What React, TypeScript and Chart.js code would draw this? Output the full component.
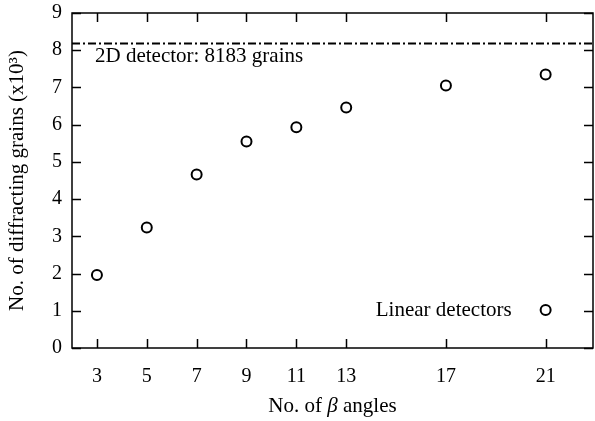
import React, { useEffect, useRef } from "react";
import { Chart, registerables } from "chart.js";

Chart.register(...registerables);

const BETA_ANGLES = [3, 5, 7, 9, 11, 13, 17, 21];
const GRAINS_K = [1.96, 3.24, 4.66, 5.55, 5.93, 6.46, 7.05, 7.35];
const X_TICKS = [3, 5, 7, 9, 11, 13, 17, 21];
const Y_TICKS = [0, 1, 2, 3, 4, 5, 6, 7, 8, 9];
const X_MIN = 2;
const X_MAX = 22.9;
const Y_MIN = 0;
const Y_MAX = 9;
const DETECTOR_2D = 8.183;
const DETECTOR_LABEL = "2D detector: 8183 grains";
const LEGEND_LABEL = "Linear detectors";
const Y_TITLE = "No. of diffracting grains (x10\u00B3)";

const FONT = "'Liberation Serif', 'Times New Roman', serif";

const framePlugin = {
  id: "frame",
  afterDraw(chart: any) {
    const { ctx, chartArea, scales } = chart;
    const { left, right, top, bottom } = chartArea;
    const xs = scales.x;
    const ys = scales.y;
    ctx.save();
    ctx.strokeStyle = "#000";
    ctx.lineWidth = 1.5;
    ctx.strokeRect(left, top, right - left, bottom - top);
    const tl = 9;
    ctx.beginPath();
    X_TICKS.forEach((v) => {
      const px = Math.round(xs.getPixelForValue(v)) + 0.5;
      ctx.moveTo(px, bottom);
      ctx.lineTo(px, bottom - tl);
      ctx.moveTo(px, top);
      ctx.lineTo(px, top + tl);
    });
    Y_TICKS.forEach((v) => {
      const py = Math.round(ys.getPixelForValue(v)) + 0.5;
      ctx.moveTo(left, py);
      ctx.lineTo(left + tl, py);
      ctx.moveTo(right, py);
      ctx.lineTo(right - tl, py);
    });
    ctx.stroke();

    // annotation for 2D detector line
    ctx.fillStyle = "#000";
    ctx.font = `21px ${FONT}`;
    ctx.textAlign = "left";
    ctx.textBaseline = "alphabetic";
    ctx.fillText(DETECTOR_LABEL, left + 23, ys.getPixelForValue(DETECTOR_2D) + 19);

    // legend
    const ly = bottom - 38;
    const lx = xs.getPixelForValue(21);
    ctx.textAlign = "right";
    ctx.textBaseline = "middle";
    ctx.fillText(LEGEND_LABEL, lx - 34, ly);
    ctx.beginPath();
    ctx.lineWidth = 2;
    ctx.arc(lx, ly, 5, 0, Math.PI * 2);
    ctx.stroke();

    // x title with italic beta
    const cx = (left + right) / 2;
    const by = 412;
    ctx.textBaseline = "alphabetic";
    ctx.textAlign = "left";
    const p1 = "No. of ";
    const p2 = "\u03B2";
    const p3 = " angles";
    ctx.font = `21px ${FONT}`;
    const w1 = ctx.measureText(p1).width;
    const w3 = ctx.measureText(p3).width;
    ctx.font = `italic 21px ${FONT}`;
    const w2 = ctx.measureText(p2).width;
    const x0 = cx - (w1 + w2 + w3) / 2;
    ctx.font = `21px ${FONT}`;
    ctx.fillText(p1, x0, by);
    ctx.font = `italic 21px ${FONT}`;
    ctx.fillText(p2, x0 + w1, by);
    ctx.font = `21px ${FONT}`;
    ctx.fillText(p3, x0 + w1 + w2, by);
    ctx.restore();
  },
};

export default function App() {
  const ref = useRef<HTMLCanvasElement | null>(null);
  useEffect(() => {
    if (!ref.current) return;
    const chart = new Chart(ref.current, {
      type: "scatter",
      data: {
        datasets: [
          {
            label: "2D detector",
            data: [
              { x: X_MIN, y: DETECTOR_2D },
              { x: X_MAX, y: DETECTOR_2D },
            ],
            showLine: true,
            borderColor: "#000",
            borderWidth: 2,
            borderDash: [8, 3, 2, 3],
            pointRadius: 0,
          },
          {
            label: LEGEND_LABEL,
            data: BETA_ANGLES.map((x, i) => ({ x, y: GRAINS_K[i] })),
            showLine: false,
            pointStyle: "circle",
            pointRadius: 5,
            pointBorderWidth: 2,
            borderColor: "#000",
            backgroundColor: "rgba(0,0,0,0)",
          },
        ],
      },
      options: {
        responsive: false,
        animation: false,
        events: [],
        layout: { autoPadding: false, padding: { top: 13, right: 2, left: 0, bottom: 0 } },
        plugins: {
          legend: { display: false },
          tooltip: { enabled: false },
        },
        scales: {
          x: {
            type: "linear",
            min: X_MIN,
            max: X_MAX,
            afterBuildTicks: (s: any) => {
              s.ticks = X_TICKS.map((v) => ({ value: v }));
            },
            afterFit: (s: any) => {
              s.height = 73;
              s.paddingLeft = 0;
              s.paddingRight = 0;
              s.paddingTop = 0;
              s.paddingBottom = 0;
            },
            grid: { display: false, drawTicks: false },
            border: { display: false },
            ticks: {
              color: "#000",
              font: { family: FONT, size: 20 },
              padding: 17,
              maxRotation: 0,
              autoSkip: false,
              callback: (v: any) => String(v),
            },
          },
          y: {
            type: "linear",
            min: Y_MIN,
            max: Y_MAX,
            afterBuildTicks: (s: any) => {
              s.ticks = Y_TICKS.map((v) => ({ value: v }));
            },
            afterFit: (s: any) => {
              s.width = 72;
              s.paddingLeft = 0;
              s.paddingRight = 0;
              s.paddingTop = 0;
              s.paddingBottom = 0;
            },
            grid: { display: false, drawTicks: false },
            border: { display: false },
            ticks: {
              color: "#000",
              font: { family: FONT, size: 20 },
              padding: 10,
              callback: (v: any) => String(v),
            },
            title: {
              display: true,
              text: Y_TITLE,
              color: "#000",
              font: { family: FONT, size: 21 },
              padding: { top: 5, bottom: 0 },
            },
          },
        },
      },
      plugins: [framePlugin],
    });
    return () => chart.destroy();
  }, []);
  return (
    <div style={{ position: "fixed", left: 0, top: 0, width: 595, height: 421, background: "#fff" }}>
      <canvas ref={ref} width={595} height={421} />
    </div>
  );
}
